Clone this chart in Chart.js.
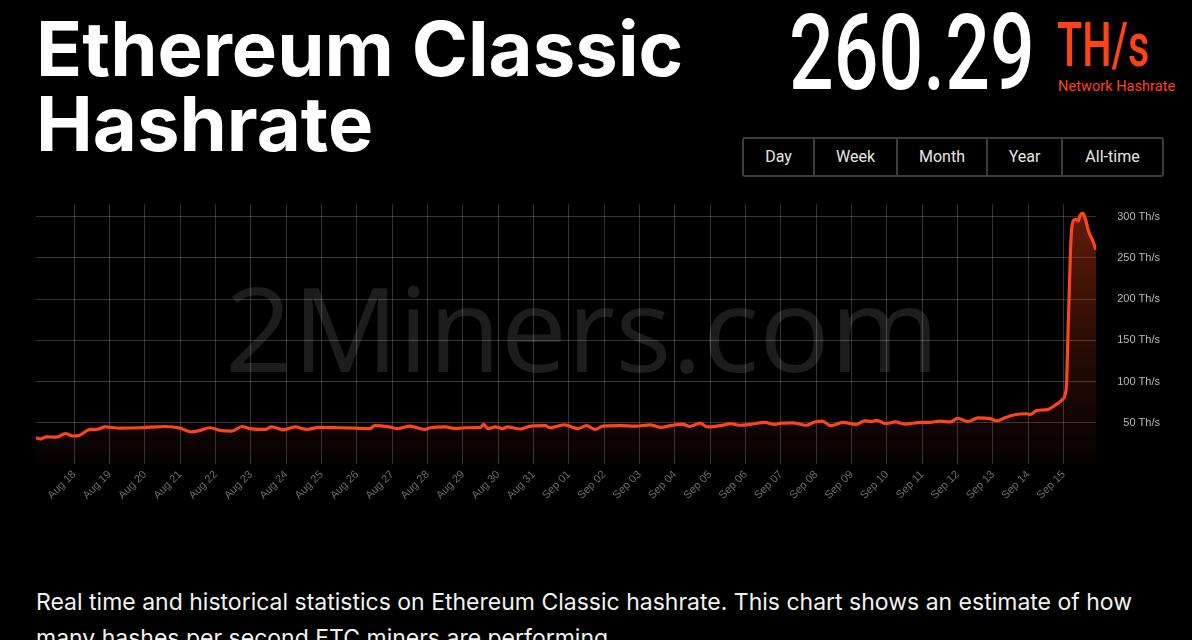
<!DOCTYPE html>
<html>
<head>
<meta charset="utf-8">
<script src="https://cdn.jsdelivr.net/npm/chart.js@4/dist/chart.umd.min.js"></script>
<style>
  html, body { margin: 0; padding: 0; background: #000; }
  body { width: 1192px; height: 640px; overflow: hidden; position: relative; font-family: Roboto, sans-serif; color: #fff; }
  h1 { position: absolute; left: 36px; top: 11px; margin: 0; font-family: Inter, sans-serif; font-weight: 700; font-size: 76px; line-height: 75px; letter-spacing: 0px; color: #fff; }
  .big { position: absolute; left: 789px; top: 1px; font-family: Roboto, sans-serif; font-weight: 500; font-size: 105px; line-height: 105px; color: #fff; transform: scaleX(0.75); transform-origin: left top; }
  .unit { position: absolute; left: 1057px; top: 15px; font-family: Roboto, sans-serif; font-weight: 500; font-size: 61px; line-height: 61px; color: #ff4316; transform: scaleX(0.68); transform-origin: left top; }
  .sub { position: absolute; left: 1058px; top: 77px; font-size: 14.6px; color: #ff4316; }
  .btns { position: absolute; left: 742px; top: 137px; height: 36px; display: flex; border: 2px solid #3c3c3c; border-radius: 3px; }
  .btns div { height: 36px; line-height: 36px; text-align: center; font-size: 16px; color: #e6e6e6; border-left: 2px solid #3c3c3c; }
  .btns div:first-child { border-left: none; }
  .mark { position: absolute; left: 225px; top: 268px; font-family: "Open Sans", sans-serif; font-size: 118px; line-height: 118px; color: #1d1d1d; white-space: nowrap; }
  #wrap { position: absolute; left: 36px; top: 184px; width: 1124px; height: 332px; }
  p { position: absolute; left: 36px; top: 584px; width: 1130px; margin: 0; font-family: Inter, sans-serif; font-size: 23px; line-height: 36px; color: #f2f2f2; }
</style>
</head>
<body>
<h1>Ethereum Classic<br>Hashrate</h1>
<div class="big">260.29</div>
<div class="unit">TH/s</div>
<div class="sub">Network Hashrate</div>
<div class="btns">
  <div style="width:69px">Day</div>
  <div style="width:81px">Week</div>
  <div style="width:88px">Month</div>
  <div style="width:73px">Year</div>
  <div style="width:99px">All-time</div>
</div>
<div class="mark">2Miners.com</div>
<div id="wrap"><canvas id="hashChart"></canvas></div>
<p>Real time and historical statistics on Ethereum Classic hashrate. This chart shows an estimate of how many hashes per second ETC miners are performing.</p>

<script>
// 날짜 라벨 (Aug 18 00:00 기준, 하루 간격)
const dayLabels = [
  'Aug 18', 'Aug 19', 'Aug 20', 'Aug 21', 'Aug 22', 'Aug 23', 'Aug 24', 'Aug 25',
  'Aug 26', 'Aug 27', 'Aug 28', 'Aug 29', 'Aug 30', 'Aug 31', 'Sep 01', 'Sep 02',
  'Sep 03', 'Sep 04', 'Sep 05', 'Sep 06', 'Sep 07', 'Sep 08', 'Sep 09', 'Sep 10',
  'Sep 11', 'Sep 12', 'Sep 13', 'Sep 14', 'Sep 15'
];

// 측정 시각 (Aug 18 00:00 이후 경과 시간, 시간 단위)
const hours = [
  -26, -23, -19, -12, -6, -1, 3, 11, 15, 21, 31, 45, 62, 72, 79, 85,
  92, 100, 107, 114, 119, 130, 134, 142, 150, 158, 166, 180, 191, 201, 204, 214,
  220, 228, 238, 242, 252, 259, 266, 276, 278, 281, 286, 291, 294, 303, 310, 320,
  323, 333, 342, 348, 354, 359, 371, 381, 391, 398, 405, 413, 418, 425, 430, 439,
  446, 452, 459, 469, 476, 480, 488, 497, 503, 508, 514, 522, 531, 537, 541, 545,
  551, 558, 564, 575, 581, 588, 595, 600, 607, 614, 622, 627, 632, 638, 647, 649,
  654, 661, 666, 671, 673, 674, 675, 676, 677, 678, 680, 682, 683, 685, 687, 689,
  692, 694
];

// 해시레이트 (TH/s)
const hashrate = [
  32, 30.5, 33, 32.5, 37, 34, 34.5, 42, 42, 45, 43.5, 44, 45.5, 43.5, 39, 40.5,
  44, 40.5, 40, 45.5, 43, 42, 45, 41.5, 45, 42, 44.5, 44, 43.5, 43, 46.5, 45,
  43, 46, 42, 44, 45, 43, 44, 44.5, 48, 43, 45, 43, 45, 42.5, 46, 46.5,
  44, 47.5, 43, 46.5, 42, 46, 46.5, 46, 47.5, 44.5, 46.5, 48.5, 45.5, 49.5, 45, 46.5,
  49, 47, 48, 50.5, 48, 49.5, 50, 47, 51, 52, 46.5, 50.5, 48, 52.5, 51.5, 53,
  49, 51, 48.5, 50.5, 50.5, 52, 51, 55.5, 51.5, 56, 55, 52.5, 56, 59.5, 61, 60,
  65, 66, 71, 78, 84, 98, 159, 220, 272, 292, 297, 295, 301, 304.5, 296, 282,
  270, 260
];

// Y축 눈금
const yTicks = [50, 100, 150, 200, 250, 300];

const points = hours.map((h, i) => ({ x: h, y: hashrate[i] }));

// ========================================
// 채우기 그라데이션
// ========================================
function fillGradient(context) {
  const { ctx, chartArea } = context.chart;
  if (!chartArea) return 'rgba(255,70,20,0.1)';
  const g = ctx.createLinearGradient(0, chartArea.top, 0, chartArea.bottom);
  g.addColorStop(0, 'rgba(255,72,22,0.40)');
  g.addColorStop(0.6, 'rgba(255,72,22,0.14)');
  g.addColorStop(1, 'rgba(255,72,22,0.02)');
  return g;
}

const ctx = document.getElementById('hashChart').getContext('2d');
new Chart(ctx, {
  type: 'line',
  data: {
    datasets: [{
      data: points,
      borderColor: '#ff4516',
      borderWidth: 3.2,
      backgroundColor: fillGradient,
      fill: 'start',
      pointRadius: 0,
      tension: 0.4,
      cubicInterpolationMode: 'monotone'
    }]
  },
  options: {
    responsive: true,
    maintainAspectRatio: false,
    animation: false,
    layout: { padding: 0 },
    plugins: {
      legend: { display: false },
      tooltip: { enabled: false }
    },
    scales: {
      x: {
        type: 'linear',
        min: hours[0],
        max: hours[hours.length - 1],
        afterBuildTicks: (scale) => {
          scale.ticks = dayLabels.map((_, i) => ({ value: i * 24 }));
        },
        afterFit: (scale) => { scale.height = 52; },
        grid: { color: 'rgba(255,255,255,0.2)', drawTicks: false },
        border: { display: false },
        ticks: {
          color: '#6b6b6b',
          font: { family: 'Liberation Sans', size: 11 },
          minRotation: 45,
          maxRotation: 45,
          padding: 4,
          autoSkip: false,
          callback: (v) => dayLabels[Math.round(v / 24)]
        }
      },
      y: {
        position: 'right',
        min: 0,
        max: 316,
        afterBuildTicks: (scale) => {
          scale.ticks = yTicks.map(v => ({ value: v }));
        },
        afterFit: (scale) => { scale.width = 64; },
        grid: { color: 'rgba(255,255,255,0.2)', drawTicks: false },
        border: { display: false },
        ticks: {
          color: '#b8b8b8',
          font: { family: 'Liberation Sans', size: 11 },
          crossAlign: 'far',
          padding: 13,
          callback: (v) => `${v} Th/s`
        }
      }
    }
  }
});
</script>
</body>
</html>
